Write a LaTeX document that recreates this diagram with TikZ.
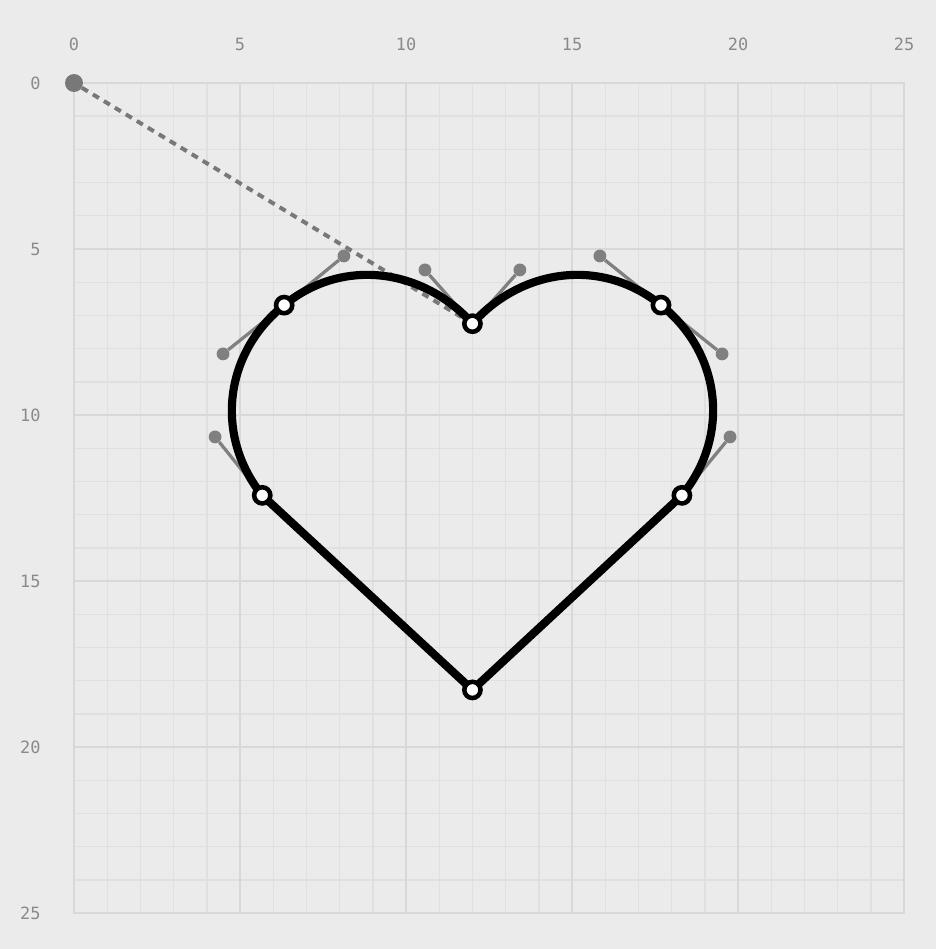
\documentclass[tikz,border=0pt]{standalone}
\usepackage{fontspec}
\newfontfamily\monofont{DejaVu Sans Mono}
\definecolor{bg}{HTML}{EBEBEB}
\definecolor{gridminor}{HTML}{E0E0E0}
\definecolor{gridmajor}{HTML}{D8D8D8}
\definecolor{labgray}{HTML}{8A8A8A}
\definecolor{handlegray}{HTML}{808080}
\definecolor{origgray}{HTML}{787878}
\tikzset{
  minorline/.style={draw=gridminor, line width=1.2pt},
  majorline/.style={draw=gridmajor, line width=1.7pt},
  borderline/.style={draw=gridmajor, line width=2.4pt},
  lab/.style={text=labgray, font=\monofont\fontsize{14.5}{16}\selectfont, inner sep=0pt},
  handleline/.style={draw=handlegray, line width=2.8pt},
  handledot/.style={circle, fill=handlegray, draw=none, minimum size=11pt, inner sep=0pt},
  origdot/.style={circle, fill=origgray, draw=none, minimum size=15.4pt, inner sep=0pt},
  dashline/.style={draw=origgray, line width=3.4pt, dash pattern=on 6pt off 5pt},
  heartline/.style={draw=black, line width=7pt, line join=round},
  anchorpt/.style={circle, fill=white, draw=black, line width=3.9pt, minimum size=13.9pt, inner sep=0pt},
}
\begin{document}
\begin{tikzpicture}[y=-1cm]
\useasboundingbox[fill=bg] (-2.229,-2.5) rectangle (25.964,26.084);
% grid
\foreach \i in {1,...,24} {
  \draw[minorline] (\i,0) -- (\i,25);
  \draw[minorline] (0,\i) -- (25,\i);
}
\foreach \i in {5,10,15,20} {
  \draw[majorline] (\i,0) -- (\i,25);
  \draw[majorline] (0,\i) -- (25,\i);
}
\draw[borderline] (0,0) rectangle (25,25);
% labels
\foreach \i in {0,5,...,25} {
  \node[lab] (tx\i) at (\i,-1.15) {\i};
  \node[lab, anchor=east] (ty\i) at (-1.0,\i) {\i};
}
% points
\coordinate (p0) at (12,7.25);
\coordinate (p1) at (6.33,6.69);
\coordinate (p2) at (5.67,12.42);
\coordinate (p3) at (12,18.28);
\coordinate (p4) at (18.31,12.42);
\coordinate (p5) at (17.68,6.69);
\coordinate (c0a) at (10.57,5.63);
\coordinate (c0b) at (13.43,5.63);
\coordinate (c1b) at (8.13,5.21);
\coordinate (c1a) at (4.49,8.16);
\coordinate (c2b) at (4.25,10.66);
\coordinate (c4a) at (19.76,10.66);
\coordinate (c5b) at (19.52,8.16);
\coordinate (c5a) at (15.84,5.21);
% origin and dashed line
\node[origdot] (o) at (0,0) {};
\draw[dashline] (o) -- (p0);
% handles
\foreach \h/\p in {c0a/p0, c0b/p0, c1b/p1, c1a/p1, c2b/p2, c4a/p4, c5b/p5, c5a/p5} {
  \node[handledot] (d\h) at (\h) {};
  \draw[handleline] (d\h) -- (\p);
}
% heart
\draw[heartline] (p0) .. controls (c0a) and (c1b) .. (p1)
  .. controls (c1a) and (c2b) .. (p2) -- (p3) -- (p4)
  .. controls (c4a) and (c5b) .. (p5)
  .. controls (c5a) and (c0b) .. cycle;
% anchors
\foreach \p in {p0,p1,p2,p3,p4,p5} {
  \node[anchorpt] (a\p) at (\p) {};
}
\end{tikzpicture}
\end{document}
